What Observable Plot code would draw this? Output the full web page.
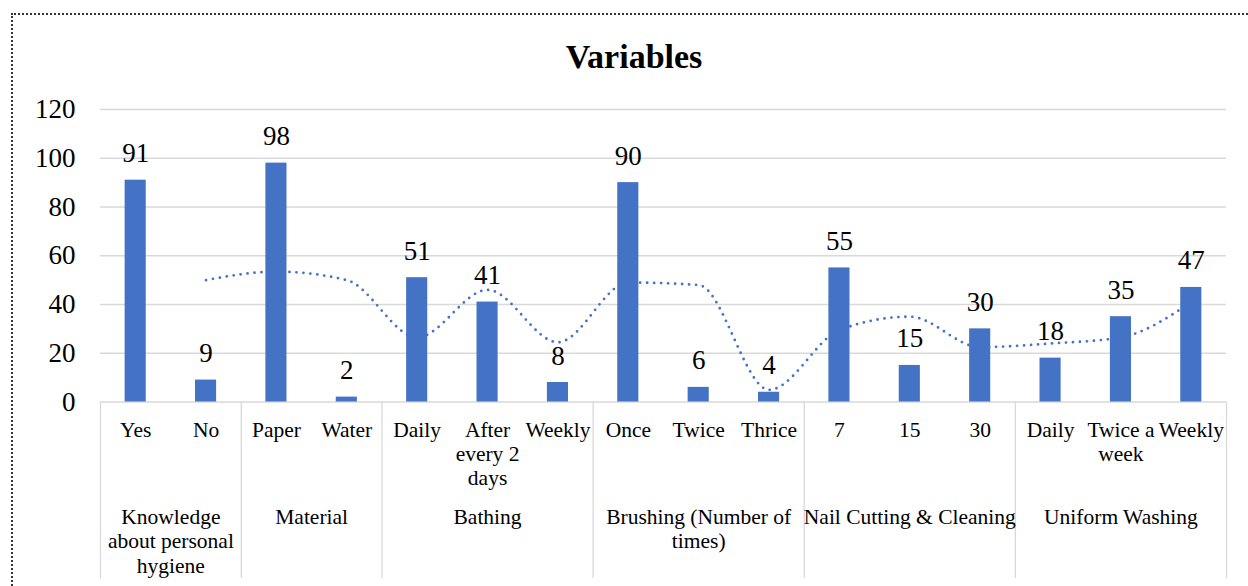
<!DOCTYPE html>
<html>
<head>
<meta charset="utf-8">
<script src="https://cdn.jsdelivr.net/npm/d3@7"></script>
<script src="https://cdn.jsdelivr.net/npm/@observablehq/plot@0.6"></script>
<style>
  html, body { margin: 0; padding: 0; background: #ffffff; }
  body { width: 1248px; height: 586px; overflow: hidden; position: relative; font-family: "Liberation Serif", "Times New Roman", serif; }
  #frameBorder { position: absolute; left: 11px; top: 13px; width: 1300px; height: 700px;
    border-left: 2px dotted #333; border-top: 2px dotted #333; box-sizing: border-box; pointer-events: none; }
  #title { height: 80px; box-sizing: border-box; padding-top: 39.5px; padding-left: 20px; text-align: center;
    font-size: 34px; line-height: 34px; font-weight: bold; color: #000; }
  #chart svg { display: block; }
</style>
</head>
<body>
<div id="frameBorder"></div>
<div id="title">Variables</div>
<div id="chart"></div>
<script>
// ---- data ----
const categories = ["Yes", "No", "Paper", "Water", "Daily", "After\nevery 2\ndays", "Weekly",
  "Once", "Twice", "Thrice", "7", "15", "30", "Daily", "Twice a\nweek", "Weekly"];
const values = [91, 9, 98, 2, 51, 41, 8, 90, 6, 4, 55, 15, 30, 18, 35, 47];
// dotted trend line (2-point moving average)
const trendValues = [null, 50, 53.5, 50, 26.5, 46, 24.5, 49, 48, 5, 29.5, 35, 22.5, 24, 26.5, 41];
const groupNames = ["Knowledge\nabout personal\nhygiene", "Material", "Bathing",
  "Brushing (Number of\ntimes)", "Nail Cutting & Cleaning", "Uniform Washing"];
const groupSizes = [2, 2, 3, 3, 3, 3];
const yTicks = [0, 20, 40, 60, 80, 100, 120];

// ---- derived tables ----
const data = categories.map((label, i) => ({i, label, value: values[i]}));
const trend = trendValues.map((v, i) => ({i, value: v})).filter(d => d.value != null);
let acc = 0;
const groups = groupNames.map((name, k) => {
  const start = acc; acc += groupSizes[k];
  return {name, start, end: acc, mid: (start + acc) / 2};
});
const boundaries = [0, ...groups.map(g => g.end)];

const W = 1248, H = 506;
const mTop = 29, mBottom = 184.5, mLeft = 100, mRight = 22;
const frameH = H - mTop - mBottom;
const yMax = 120;
const sepDepthPx = 176.5;
const sepDepth = -sepDepthPx * yMax / frameH;

const blue = "#4472C4";
const grid = "#d9d9d9";

const chart = Plot.plot({
  width: W, height: H,
  marginTop: mTop, marginBottom: mBottom, marginLeft: mLeft, marginRight: mRight,
  style: {fontFamily: "'Liberation Serif', 'Times New Roman', serif", background: "transparent", color: "#000", overflow: "visible"},
  x: {type: "linear", domain: [0, categories.length], axis: null},
  y: {domain: [0, yMax], axis: null},
  marks: [
    Plot.ruleY(yTicks, {stroke: grid, strokeWidth: 1.3}),
    Plot.axisY({ticks: yTicks, tickSize: 0, tickPadding: 25, fontSize: 27, label: null, tickFormat: d => String(d)}),
    Plot.ruleX(boundaries, {y1: 0, y2: sepDepth, stroke: grid, strokeWidth: 1.3}),
    Plot.line(trend, {x: d => d.i + 0.5, y: "value", curve: "monotone-x", stroke: blue,
      strokeWidth: 2.8, strokeDasharray: "0 7", strokeLinecap: "round"}),
    Plot.rectY(data, {x1: d => d.i + 0.35, x2: d => d.i + 0.65, y1: 0, y2: "value", fill: blue}),
    Plot.text(data, {x: d => d.i + 0.5, y: "value", text: d => String(d.value), lineAnchor: "bottom",
      dy: -18, fontSize: 27}),
    Plot.text(data, {x: d => d.i + 0.5, text: "label", frameAnchor: "bottom", lineAnchor: "top",
      dy: 17.5, fontSize: 21.5, lineHeight: 1.12}),
    Plot.text(groups, {x: "mid", text: "name", frameAnchor: "bottom", lineAnchor: "top",
      dy: 104.5, fontSize: 21.5, lineHeight: 1.14})
  ]
});
document.getElementById("chart").appendChild(chart);
</script>
</body>
</html>
